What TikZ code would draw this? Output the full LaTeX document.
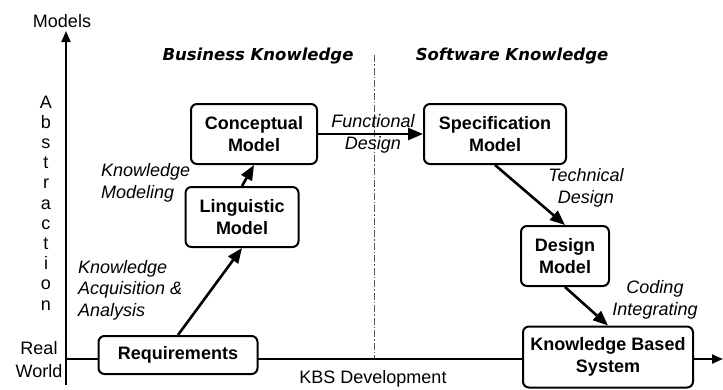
\documentclass[tikz,border=0pt]{standalone}
\usepackage{fontspec}
\setmainfont{Liberation Sans}
\newfontfamily\headfont{DejaVu Sans}
\usetikzlibrary{arrows.meta}

\tikzset{
  modelbox/.style={draw, line width=2pt, rounded corners=6pt, fill=white, align=center,
    inner sep=2pt, minimum height=60pt, font=\bfseries\fontsize{18}{21.5}\selectfont},
  flow/.style={line width=2.6pt, -{Triangle[length=15pt,width=12pt]}},
  axis/.style={line width=2pt, -{Triangle[length=11pt,width=9pt]}},
  steplabel/.style={inner sep=0pt, font=\itshape\fontsize{18}{21.5}\selectfont},
  plain/.style={inner sep=0pt, font=\fontsize{18}{21.5}\selectfont},
  headlabel/.style={inner sep=0pt, font=\headfont\bfseries\itshape\fontsize{16.5}{20}\selectfont},
}

\begin{document}
\begin{tikzpicture}[x=1pt,y=-1pt]
	\useasboundingbox (0,0) rectangle (723,389);
	% axes
	\coordinate (origin) at (66,359);
	\coordinate (ytop) at (66,31);
	\coordinate (ybot) at (66,385);
	\coordinate (xend) at (723,359);
	\draw[line width=2pt] (ybot) -- (origin);
	\draw[axis] (origin) -- (ytop);
	\draw[axis] (origin) -- (xend);
	\node[plain] (models) at (62,21) {Models};
	\node[plain, align=center, font=\fontsize{18}{20.2}\selectfont] (abstr) at (46,203)
		{A\\b\\s\\t\\r\\a\\c\\t\\i\\o\\n};
	\node[plain, align=center, font=\fontsize{18}{23}\selectfont] (realworld) at (39,360) {Real\\World};
	\node[plain] (kbsdev) at (373,379) {KBS Development};
	% divider
	\coordinate (divtop) at (374,55);
	\coordinate (divbot) at (374,358);
	\draw[line width=0.8pt, gray!70!black, dash pattern=on 7pt off 2pt on 1.5pt off 2pt] (divtop) -- (divbot);
	\node[headlabel] (business) at (258,56) {Business Knowledge};
	\node[headlabel] (software) at (512,56) {Software Knowledge};
	% models
	\node[modelbox, minimum width=159pt, minimum height=38pt] (req) at (178,355) {Requirements};
	\node[modelbox, minimum width=113pt] (ling) at (242,217) {Linguistic\\Model};
	\node[modelbox, minimum width=126pt] (conc) at (254,134) {Conceptual\\Model};
	\node[modelbox, minimum width=142pt] (spec) at (495,134) {Specification\\Model};
	\node[modelbox, minimum width=88pt] (design) at (565,256) {Design\\Model};
	\node[modelbox, minimum width=170pt, minimum height=61pt] (kbs) at (608,357) {Knowledge Based\\System};
	% transitions
	\draw[flow] (req.north) -- (ling.south);
	\draw[flow] (ling.north) -- (conc.south);
	\draw[flow] (conc.east) -- (spec.west);
	\draw[flow] (spec.south) -- (design.north);
	\draw[flow] (design.south) -- (kbs.north);
	\node[steplabel, align=left, anchor=west] (kaa) at (78,290) {Knowledge\\Acquisition \&\\Analysis};
	\node[steplabel, align=left, anchor=west] (km) at (101,183) {Knowledge\\Modeling};
	\node[steplabel, align=center] (fd) at (373,134) {Functional\\Design};
	\node[steplabel, align=center] (td) at (586,188) {Technical\\Design};
	\node[steplabel, align=center] (ci) at (655,300) {Coding\\Integrating};
\end{tikzpicture}
\end{document}
